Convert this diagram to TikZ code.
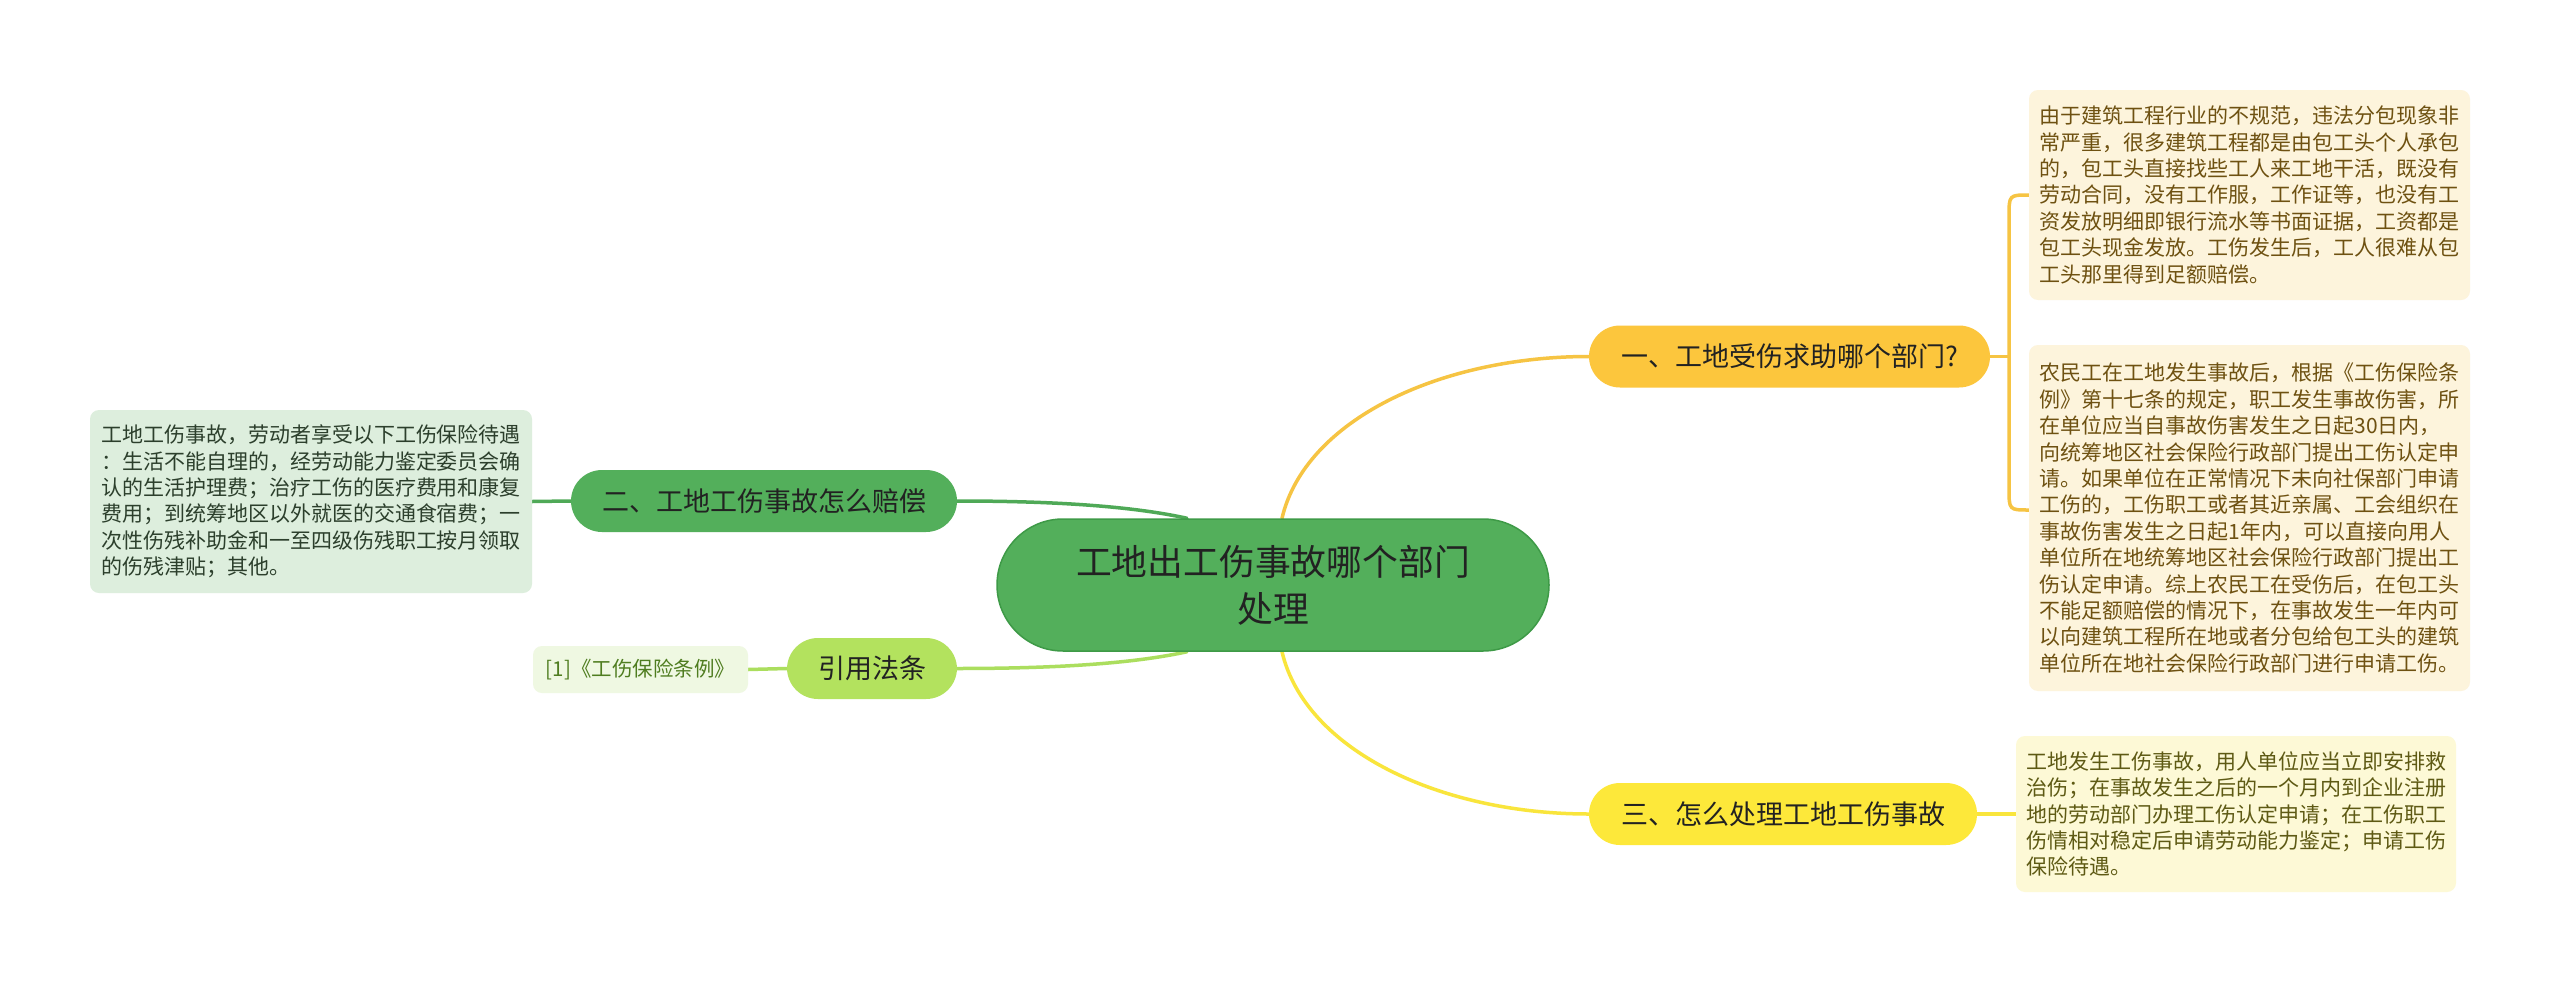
\documentclass[tikz,border=0pt]{standalone}
\usepackage{fontspec}
\setmainfont{Noto Sans CJK SC}
\usetikzlibrary{calc,backgrounds}
\definecolor{cfill}{HTML}{53AF5B}
\definecolor{cborder}{HTML}{3E9A47}
\definecolor{bonefill}{HTML}{FCC63D}
\definecolor{bthreefill}{HTML}{FDE83A}
\definecolor{bfourfill}{HTML}{B3E25E}
\definecolor{lyellow}{HTML}{FDF4DC}
\definecolor{lyellowb}{HTML}{FDF9D6}
\definecolor{lgreen}{HTML}{DDEEDD}
\definecolor{lcite}{HTML}{EFF8E2}
\definecolor{lineone}{HTML}{F6C443}
\definecolor{linethree}{HTML}{F9E53C}
\definecolor{linetwo}{HTML}{4FA957}
\definecolor{linefour}{HTML}{ABDE5E}
\definecolor{tbrown}{HTML}{6E5111}
\definecolor{tolive}{HTML}{5E5A14}
\definecolor{tdgreen}{HTML}{2C3F2C}
\definecolor{tcite}{HTML}{4F7D20}
\definecolor{tdark}{HTML}{222222}
\begin{document}
\begin{tikzpicture}[x=1pt,y=-1pt,
  centernode/.style={fill=cfill,draw=cborder,line width=1.5pt,rounded corners=66pt,
    minimum width=552pt,minimum height=132pt,align=center,inner sep=0pt,
    font=\fontsize{35.8}{47}\selectfont,text=tdark},
  branch/.style={rounded corners=31pt,minimum height=62pt,inner sep=0pt,
    font=\fontsize{27}{32}\selectfont,text=tdark},
  leaf/.style={rounded corners=9pt,inner sep=0pt,align=left,
    font=\fontsize{21}{26.4}\selectfont},
  conn/.style={line width=3.5pt,line cap=round}]
\useasboundingbox (0,0) rectangle (2560,982);

\node[centernode] (c) at (1273,585) {工地出工伤事故哪个部门\\处理};

\node[branch,fill=bonefill,minimum width=401pt] (b1) at (1789.5,356.5) {一、工地受伤求助哪个部门?};
\node[branch,fill=bthreefill,minimum width=388pt] (b3) at (1783,814) {三、怎么处理工地工伤事故};
\node[branch,fill=cfill,minimum width=386pt] (b2) at (764,501) {二、工地工伤事故怎么赔偿};
\node[branch,fill=bfourfill,minimum width=170pt,minimum height=61pt] (b4) at (872,668.5) {引用法条};

\node[leaf,fill=lcite,text=tcite,minimum width=215pt,minimum height=47pt,font=\fontsize{20.5}{24}\selectfont] (cite) at (640.5,669.5) {[1]《工伤保险条例》};

\node[leaf,fill=lyellow,text=tbrown,minimum width=441pt,minimum height=210pt] (l1) at (2249.5,195) {由于建筑工程行业的不规范，违法分包现象非\\常严重，很多建筑工程都是由包工头个人承包\\的，包工头直接找些工人来工地干活，既没有\\劳动合同，没有工作服，工作证等，也没有工\\资发放明细即银行流水等书面证据，工资都是\\包工头现金发放。工伤发生后，工人很难从包\\工头那里得到足额赔偿。};

\node[leaf,fill=lyellow,text=tbrown,minimum width=441pt,minimum height=346pt] (l2) at (2249.5,518) {农民工在工地发生事故后，根据《工伤保险条\\例》第十七条的规定，职工发生事故伤害，所\\在单位应当自事故伤害发生之日起30日内，\\向统筹地区社会保险行政部门提出工伤认定申\\请。如果单位在正常情况下未向社保部门申请\\工伤的，工伤职工或者其近亲属、工会组织在\\事故伤害发生之日起1年内，可以直接向用人\\单位所在地统筹地区社会保险行政部门提出工\\伤认定申请。综上农民工在受伤后，在包工头\\不能足额赔偿的情况下，在事故发生一年内可\\以向建筑工程所在地或者分包给包工头的建筑\\单位所在地社会保险行政部门进行申请工伤。};

\node[leaf,fill=lyellowb,text=tolive,minimum width=440pt,minimum height=156pt] (l3) at (2236,814) {工地发生工伤事故，用人单位应当立即安排救\\治伤；在事故发生之后的一个月内到企业注册\\地的劳动部门办理工伤认定申请；在工伤职工\\伤情相对稳定后申请劳动能力鉴定；申请工伤\\保险待遇。};

\node[leaf,fill=lgreen,text=tdgreen,minimum width=442pt,minimum height=183pt] (l4) at (311,501.5) {工地工伤事故，劳动者享受以下工伤保险待遇\\：生活不能自理的，经劳动能力鉴定委员会确\\认的生活护理费；治疗工伤的医疗费用和康复\\费用；到统筹地区以外就医的交通食宿费；一\\次性伤残补助金和一至四级伤残职工按月领取\\的伤残津贴；其他。};

\begin{pgfonlayer}{background}
\fill[white] (0,0) rectangle (2560,982);
\draw[conn,draw=lineone] ($(c.north)+(9,0)$) .. controls (1305,420) and (1440,356.5) .. (b1.west);
\draw[conn,draw=linethree] ($(c.south)+(9,0)$) .. controls (1305,750) and (1440,814) .. (b3.west);
\draw[conn,draw=linetwo] ($(c.north)+(-86,0)$) .. controls (1140,508) and (1070,501) .. (b2.east);
\draw[conn,draw=linefour] ($(c.south)+(-86,0)$) .. controls (1140,662) and (1070,668.5) .. (b4.east);
\coordinate (bk) at (2009,356.5);
\draw[conn,draw=lineone] (b1.east) -- (bk);
\draw[conn,draw=lineone] (l1.west) .. controls (2009,195) .. (2009,217) -- (2009,488) .. controls (2009,510) .. ($(l2.west)+(0,-8)$);
\draw[conn,draw=linethree] (b3.east) -- (l3.west);
\draw[conn,draw=linetwo] (b2.west) -- (l4.east);
\draw[conn,draw=linefour] (b4.west) -- (cite.east);
\end{pgfonlayer}
\end{tikzpicture}
\end{document}
